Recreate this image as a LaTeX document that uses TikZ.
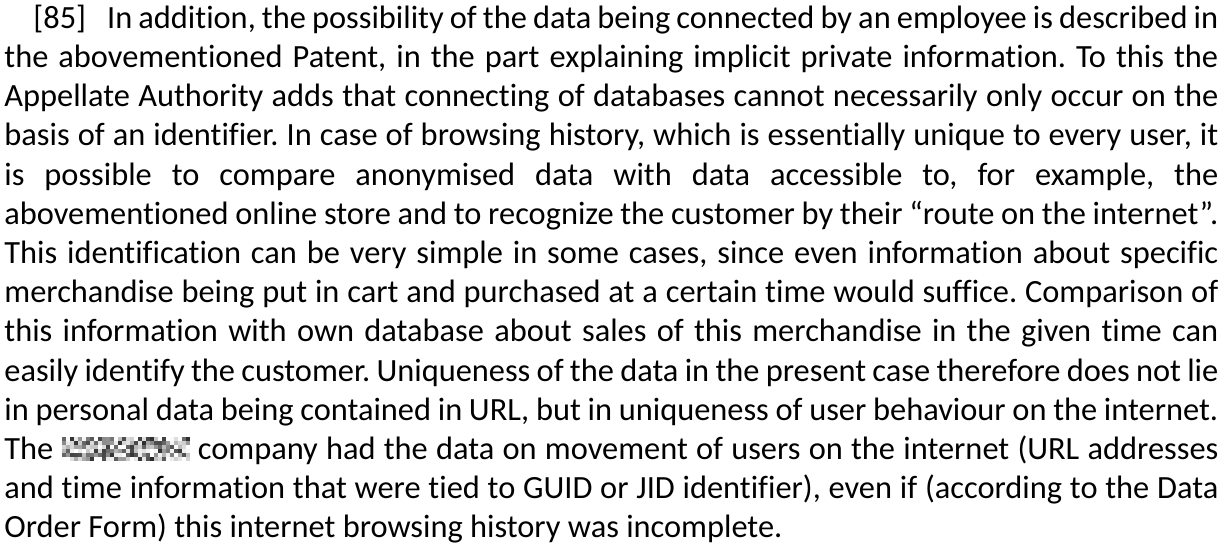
\documentclass[tikz,border=0pt]{standalone}
\usepackage{fontspec}
\setmainfont{Carlito}[Ligatures=NoCommon]
\hyphenpenalty=10000
\exhyphenpenalty=10000
\lefthyphenmin=64
\tolerance=10000
\frenchspacing
\newcommand\redactblock{\raisebox{-0.5pt}{\vbox{\offinterlineskip\hsize=64pt
  \foreach \r in {0,...,5}{\hbox{\foreach \c in {0,...,31}{\pgfmathtruncatemacro\g{85*rnd^1.6}\color{black!\g}\rule{2pt}{2pt}}}}}}}
\begin{document}
\begin{tikzpicture}[x=1pt,y=1pt,
  para/.style={anchor=north west, inner sep=0pt, text width=607pt, align=justify,
    font=\fontsize{16.2pt}{19.6pt}\selectfont}]
\pgfmathsetseed{4711}
\useasboundingbox[fill=white] (0,0) rectangle (616,-272);
\node[para] (text) at (2,0) {\noindent\rule{0pt}{14pt}\hspace*{14.5pt}[85]\hspace{10.5pt}In addition, the possibility of the data being connected by an employee is described in\linebreak
the abovementioned Patent, in the part explaining implicit private information. To this the\linebreak
Appellate Authority adds that connecting of databases cannot necessarily only occur on the\linebreak
basis of an identifier. In case of browsing history, which is essentially unique to every user, it\linebreak
is possible to compare anonymised data with data accessible to, for example, the\linebreak
abovementioned online store and to recognize the customer by their “route on the internet”.\linebreak
This identification can be very simple in some cases, since even information about specific\linebreak
merchandise being put in cart and purchased at a certain time would suffice. Comparison of\linebreak
this information with own database about sales of this merchandise in the given time can\linebreak
easily identify the customer. Uniqueness of the data in the present case therefore does not lie\linebreak
in personal data being contained in URL, but in uniqueness of user behaviour on the internet.\linebreak
The \redactblock{} company had the data on movement of users on the internet (URL addresses\linebreak
and time information that were tied to GUID or JID identifier), even if (according to the Data\linebreak
Order Form) this internet browsing history was incomplete.};
\end{tikzpicture}
\end{document}
